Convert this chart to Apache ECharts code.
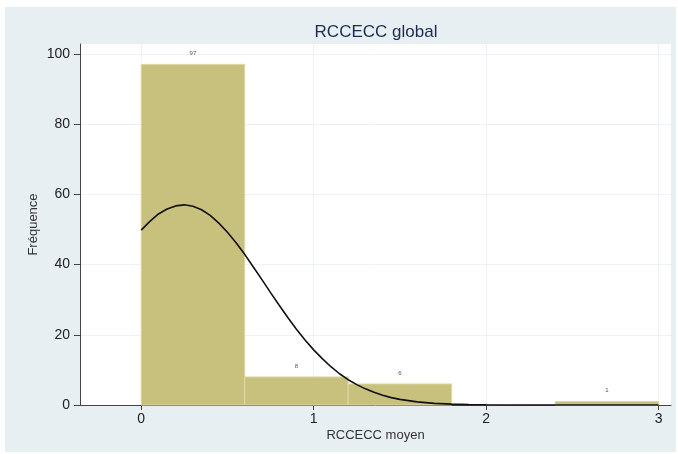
<!DOCTYPE html>
<html>
<head>
<meta charset="utf-8">
<script src="https://cdn.jsdelivr.net/npm/echarts@6/dist/echarts.min.js"></script>
<style>html,body{margin:0;padding:0;background:#fff;}#c{width:678px;height:454px;}</style>
</head>
<body>
<div id="c"></div>
<script>
// Histogram bins (RCCECC moyen) and frequencies
var binStart = [0, 0.6, 1.2, 1.8, 2.4];
var binEnd   = [0.6, 1.2, 1.8, 2.4, 3.0];
var counts   = [97, 8, 6, 0, 1];
// Normal density overlay
var curveX = [0, 0.05, 0.1, 0.15, 0.2, 0.25, 0.3, 0.35, 0.4, 0.45, 0.5, 0.55, 0.6, 0.65, 0.7, 0.75, 0.8, 0.85, 0.9, 0.95,
              1.0, 1.05, 1.1, 1.15, 1.2, 1.25, 1.3, 1.35, 1.4, 1.45, 1.5, 1.6, 1.7, 1.8, 1.9, 2.0, 2.2, 2.5, 2.8, 3.0];
var curveY = [49.8, 52.3, 54.4, 55.8, 56.7, 57.0, 56.6, 55.6, 54.0, 51.8, 49.2, 46.2, 42.9, 39.3, 35.7, 32.0, 28.4, 24.9, 21.6, 18.5,
              15.7, 13.2, 10.9, 8.9, 7.2, 5.8, 4.6, 3.6, 2.8, 2.1, 1.6, 0.9, 0.47, 0.24, 0.12, 0.05, 0.01, 0, 0, 0];
var xTicks = [0, 1, 2, 3];
var yTicks = [0, 20, 40, 60, 80, 100];
var titleText = 'RCCECC global';
var xName = 'RCCECC moyen';
var yName = 'Fréquence';

var FONT = "'Liberation Sans', Arial, sans-serif";
var barData = binStart.map(function (s, i) { return [s, binEnd[i], counts[i]]; });
var lineData = curveX.map(function (x, i) { return [x, curveY[i]]; });

var chart = echarts.init(document.getElementById('c'), null, {renderer: 'canvas'});
chart.setOption({
  backgroundColor: '#ffffff',
  animation: false,
  graphic: {
    elements: [{
      type: 'rect', z: -100, silent: true,
      shape: {x: 5, y: 7, width: 671, height: 445},
      style: {fill: '#e8eff2'}
    }]
  },
  title: {
    text: titleText,
    left: 376, top: 24, padding: 0,
    textAlign: 'center',
    textStyle: {fontFamily: FONT, fontSize: 17, fontWeight: 'normal', color: '#1c2b4f'}
  },
  grid: {
    left: 80, right: 7, top: 44, bottom: 49,
    show: true, backgroundColor: '#ffffff', borderWidth: 0
  },
  xAxis: {
    type: 'value', min: -0.355, max: 3.072,
    name: xName, nameLocation: 'middle', nameGap: 24, nameMoveOverlap: false,
    nameTextStyle: {fontFamily: FONT, fontSize: 13, color: '#333'},
    axisLine: {show: true, onZero: false, lineStyle: {color: '#444', width: 1}},
    axisTick: {show: true, length: 5, customValues: xTicks, lineStyle: {color: '#444'}},
    axisLabel: {customValues: xTicks, margin: 7, fontFamily: FONT, fontSize: 14, color: '#222'},
    splitLine: {show: true, lineStyle: {color: '#edf3f5', width: 1}}
  },
  yAxis: {
    type: 'value', min: 0, max: 102.8,
    name: yName, nameLocation: 'middle', nameGap: 40, nameMoveOverlap: false,
    nameTextStyle: {fontFamily: FONT, fontSize: 13, color: '#333'},
    axisLine: {show: true, onZero: false, lineStyle: {color: '#444', width: 1}},
    axisTick: {show: true, length: 6, customValues: yTicks, lineStyle: {color: '#444'}},
    axisLabel: {customValues: yTicks, margin: 10, fontFamily: FONT, fontSize: 14, color: '#222'},
    splitLine: {show: true, lineStyle: {color: '#edf3f5', width: 1}}
  },
  series: [{
    type: 'custom',
    data: barData,
    encode: {x: [0, 1], y: 2},
    renderItem: function (params, api) {
      var x0 = api.value(0), x1 = api.value(1), c = api.value(2);
      var p0 = api.coord([x0, 0]);
      var p1 = api.coord([x1, c]);
      var children = [];
      if (c > 0) {
        children.push({
          type: 'rect',
          shape: {x: p0[0], y: p1[1], width: p1[0] - p0[0], height: p0[1] - p1[1]},
          style: {fill: '#c8c17e', stroke: '#dcd8a8', lineWidth: 1}
        });
        children.push({
          type: 'text',
          style: {
            text: String(c), x: (p0[0] + p1[0]) / 2, y: p1[1] - 11,
            align: 'center', verticalAlign: 'middle',
            fontSize: 6, fontFamily: FONT, fill: '#555'
          }
        });
      }
      return {type: 'group', children: children};
    },
    z: 2
  }, {
    type: 'line',
    data: lineData,
    smooth: false,
    showSymbol: false,
    lineStyle: {color: '#111', width: 1.6},
    z: 3
  }]
});
</script>
</body>
</html>
